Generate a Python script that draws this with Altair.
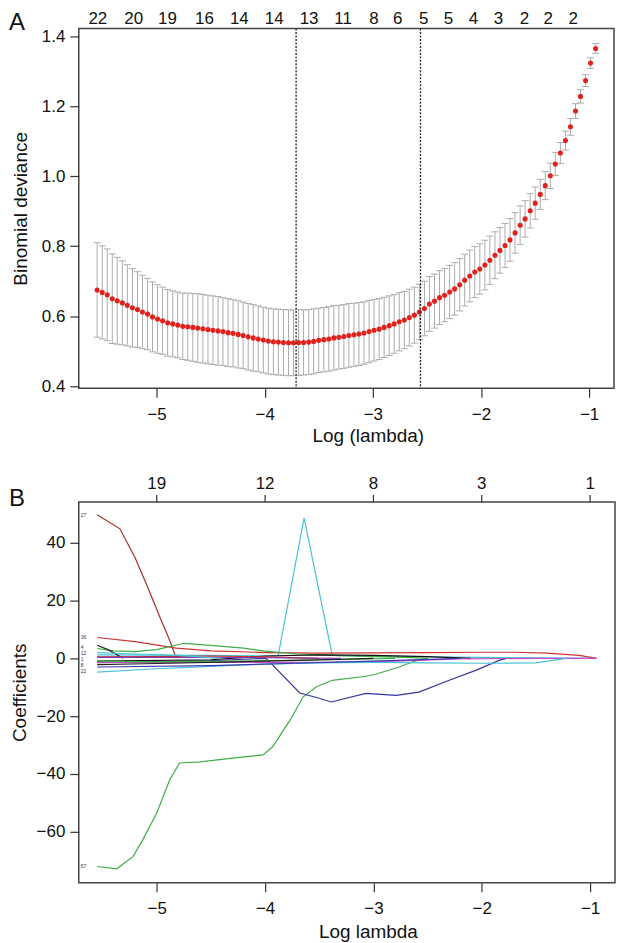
import altair as alt
import numpy as np
import pandas as pd

# ---------------- Panel A data: cross-validation curve ----------------
log_lambda = [
    -5.550, -5.503, -5.457, -5.410, -5.364, -5.317, -5.271, -5.224, -5.177, -5.131,
    -5.084, -5.038, -4.991, -4.945, -4.898, -4.851, -4.805, -4.758, -4.712, -4.665,
    -4.619, -4.572, -4.525, -4.479, -4.432, -4.386, -4.339, -4.293, -4.246, -4.200,
    -4.153, -4.106, -4.060, -4.013, -3.967, -3.920, -3.874, -3.827, -3.780, -3.734,
    -3.687, -3.641, -3.594, -3.548, -3.501, -3.454, -3.408, -3.361, -3.315, -3.268,
    -3.222, -3.175, -3.129, -3.082, -3.035, -2.989, -2.942, -2.896, -2.849, -2.803,
    -2.756, -2.709, -2.663, -2.616, -2.570, -2.523, -2.477, -2.430, -2.384, -2.337,
    -2.290, -2.244, -2.197, -2.151, -2.104, -2.058, -2.011, -1.964, -1.918, -1.871,
    -1.825, -1.778, -1.732, -1.685, -1.638, -1.592, -1.545, -1.499, -1.452, -1.406,
    -1.359, -1.313, -1.266, -1.219, -1.173, -1.126, -1.080, -1.033, -0.987, -0.940,
]
cv_mean = [
    0.675, 0.668, 0.661, 0.650, 0.644, 0.638, 0.631, 0.624, 0.619, 0.612,
    0.606, 0.598, 0.592, 0.587, 0.581, 0.578, 0.575, 0.571, 0.570, 0.568,
    0.566, 0.564, 0.562, 0.560, 0.558, 0.556, 0.553, 0.551, 0.548, 0.545,
    0.541, 0.538, 0.535, 0.532, 0.529, 0.527, 0.526, 0.525, 0.524, 0.524,
    0.525, 0.525, 0.526, 0.528, 0.531, 0.533, 0.535, 0.538, 0.540, 0.542,
    0.545, 0.547, 0.549, 0.552, 0.556, 0.560, 0.563, 0.568, 0.573, 0.578,
    0.584, 0.589, 0.596, 0.603, 0.612, 0.622, 0.635, 0.643, 0.653, 0.660,
    0.669, 0.678, 0.690, 0.703, 0.715, 0.726, 0.735, 0.746, 0.760, 0.774,
    0.788, 0.802, 0.818, 0.838, 0.860, 0.878, 0.901, 0.923, 0.948, 0.973,
    1.001, 1.035, 1.066, 1.102, 1.141, 1.186, 1.228, 1.273, 1.323, 1.365,
]
cv_se = [
    0.135, 0.133, 0.131, 0.128, 0.124, 0.120, 0.116, 0.112, 0.108, 0.105,
    0.102, 0.100, 0.098, 0.096, 0.095, 0.094, 0.094, 0.095, 0.096, 0.097,
    0.098, 0.098, 0.098, 0.098, 0.098, 0.097, 0.097, 0.096, 0.096, 0.095,
    0.095, 0.095, 0.094, 0.094, 0.094, 0.094, 0.094, 0.094, 0.094, 0.094,
    0.094, 0.093, 0.093, 0.093, 0.092, 0.092, 0.092, 0.092, 0.091, 0.091,
    0.091, 0.090, 0.090, 0.089, 0.089, 0.088, 0.087, 0.086, 0.085, 0.084,
    0.083, 0.082, 0.081, 0.080, 0.079, 0.078, 0.078, 0.077, 0.077, 0.076,
    0.076, 0.075, 0.075, 0.074, 0.074, 0.073, 0.072, 0.071, 0.069, 0.067,
    0.065, 0.063, 0.061, 0.058, 0.055, 0.052, 0.049, 0.046, 0.043, 0.040,
    0.036, 0.033, 0.030, 0.027, 0.024, 0.021, 0.019, 0.017, 0.015, 0.014,
]
lambda_lines = [-3.71, -2.56]

topA_pos = [-5.544, -5.212, -4.899, -4.558, -4.235, -3.912, -3.590, -3.276, -2.991,
            -2.770, -2.530, -2.300, -2.069, -1.839, -1.599, -1.378, -1.147]
topA_lab = ["22", "20", "19", "16", "14", "14", "13", "11", "8",
            "6", "5", "5", "4", "3", "2", "2", "2"]

# ---------------- Panel B data: coefficient paths ----------------
p27_x = [-5.55, -5.34, -5.20, -5.09, -4.97, -4.88, -4.82]
p27_y = [49.7, 44.8, 34.8, 25.2, 14.1, 6.2, 0.0]
p57_x = [-5.55, -5.37, -5.22, -5.13, -5.00, -4.88, -4.79, -4.60, -4.30, -4.02, -3.93,
         -3.77, -3.65, -3.53, -3.38, -3.07, -2.98, -2.77, -2.62, -2.50]
p57_y = [-72.0, -72.8, -68.6, -62.8, -53.5, -42.0, -36.2, -35.8, -34.5, -33.4, -30.6,
         -21.4, -13.4, -9.9, -7.6, -6.2, -5.5, -3.1, -1.0, 0.0]
pspike_x = [-5.55, -4.50, -3.88, -3.64, -3.38, -3.00, -2.50, -2.00, -1.50, -0.94]
pspike_y = [1.2, 1.0, 0.8, 48.6, 1.0, 0.8, 0.5, 0.3, 0.2, 0.0]
pnavy_x = [-5.55, -4.50, -3.99, -3.68, -3.50, -3.39, -3.07, -2.79, -2.58, -2.30, -2.05, -1.84, -1.77]
pnavy_y = [-1.5, -0.8, 0.0, -12.0, -13.8, -15.1, -12.1, -12.8, -11.7, -7.6, -4.1, -0.7, 0.0]
p26_x = [-5.55, -5.20, -4.82, -4.50, -4.00, -3.50, -3.00, -2.50, -2.00, -1.70, -1.40, -1.10, -0.94]
p26_y = [7.2, 5.8, 3.5, 2.6, 2.0, 1.8, 1.9, 2.0, 2.1, 2.1, 1.8, 1.0, 0.0]
pgreen2_x = [-5.55, -5.40, -5.20, -5.00, -4.75, -4.50, -4.20, -4.00, -3.70, -3.40, -3.00, -2.70, -2.50]
pgreen2_y = [3.4, 2.6, 2.3, 3.0, 5.2, 4.5, 3.5, 2.5, 1.5, 1.0, 0.6, 0.3, 0.0]
pblack1_x = [-5.55, -5.45, -5.31]
pblack1_y = [4.5, 3.0, 0.0]
pblack2_x = [-5.55, -4.50, -4.00, -3.50, -3.00, -2.50, -2.10]
pblack2_y = [-1.0, -0.5, 0.8, 1.2, 1.0, 0.6, 0.0]
pmag_x = [-5.55, -4.50, -3.50, -2.80, -2.20, -1.50, -0.94]
pmag_y = [-1.4, -1.4, -1.4, -1.0, -0.2, 0.0, 0.0]
pcyan2_x = [-5.55, -5.00, -4.50, -4.00, -3.50, -3.00, -2.50, -2.00, -1.50, -1.22]
pcyan2_y = [-4.8, -3.6, -2.8, -2.0, -1.6, -1.4, -1.6, -1.7, -1.6, 0.0]
pblue2_x = [-5.55, -4.50, -3.80, -3.00, -2.20]
pblue2_y = [-3.0, -2.5, -1.8, -1.0, 0.0]
pgreen3_x = [-5.55, -5.00, -4.00, -3.30, -2.80]
pgreen3_y = [-1.0, -1.2, -0.8, -0.4, 0.0]
pblack3_x = [-5.55, -5.00, -4.30, -3.60, -3.00]
pblack3_y = [-2.2, -1.8, -1.2, -0.6, 0.0]
pred3_x = [-5.55, -5.00, -4.50, -4.00, -3.50]
pred3_y = [0.5, 0.6, 0.8, 0.5, 0.0]
ppurple_x = [-5.55, -4.80, -4.00, -3.30]
ppurple_y = [0.3, 0.3, 0.2, 0.0]
pcyan3_x = [-5.55, -5.20, -4.80, -4.40]
pcyan3_y = [2.0, 1.5, 1.0, 0.0]

series_names = ["s27", "s57", "spike", "navy", "s26", "green2", "black1", "black2",
                "mag", "cyan2", "blue2", "green3", "black3", "red3", "purple", "cyan3"]
series_colors = ["#a8302c", "#3fae45", "#48c3d3", "#35359c", "#cc3434", "#3fae45",
                 "#222222", "#111111", "#c44cc4", "#48c3d3", "#3a3ab0", "#3fae45",
                 "#222222", "#d02a2a", "#7a3aa8", "#48c3d3"]
series_paths = [(p27_x, p27_y), (p57_x, p57_y), (pspike_x, pspike_y), (pnavy_x, pnavy_y),
                (p26_x, p26_y), (pgreen2_x, pgreen2_y), (pblack1_x, pblack1_y),
                (pblack2_x, pblack2_y), (pmag_x, pmag_y), (pcyan2_x, pcyan2_y),
                (pblue2_x, pblue2_y), (pgreen3_x, pgreen3_y), (pblack3_x, pblack3_y),
                (pred3_x, pred3_y), (ppurple_x, ppurple_y), (pcyan3_x, pcyan3_y)]

var_lab_text = ["27", "36", "57", "4", "12", "1", "8", "22"]
var_lab_y = [49.7, 7.2, -72.0, 4.0, 1.8, -0.2, -2.2, -4.4]

topB_pos = [-5, -4, -3, -2, -1]
topB_lab = ["19", "12", "8", "3", "1"]

# ---------------- build tables ----------------
dfA = pd.DataFrame({"x": log_lambda, "mean": cv_mean, "se": cv_se})
dfA["lower"] = dfA["mean"] - dfA["se"]
dfA["upper"] = dfA["mean"] + dfA["se"]

rows = []
for name, (xs, ys) in zip(series_names, series_paths):
    for a, b in zip(xs, ys):
        rows.append({"series": name, "x": a, "y": b})
dfB = pd.DataFrame(rows)

FONT = "Liberation Sans"
xscale = alt.Scale(domain=[-5.72, -0.77], nice=False, zero=False)
yA = alt.Scale(domain=[0.394, 1.422], nice=False, zero=False)
yB = alt.Scale(domain=[-77.6, 54.1], nice=False, zero=False)

xaxisA = alt.Axis(values=[-5, -4, -3, -2, -1], format="d", title="Log (lambda)",
                  labelPadding=9,
                  titleX=290, titleY=47, titleBaseline="middle", titleAlign="center")
yaxisA = alt.Axis(values=[0.4, 0.6, 0.8, 1.0, 1.2, 1.4], format=".1f",
                  title="Binomial deviance", titlePadding=11)

# ---------------- Panel A ----------------
WA, HA = 537, 361
baseA = alt.Chart(dfA)
bars = baseA.mark_rule(color="#acacac", strokeWidth=1).encode(
    x=alt.X("x:Q", scale=xscale, axis=xaxisA),
    y=alt.Y("lower:Q", scale=yA, axis=yaxisA),
    y2="upper:Q",
)
capU = baseA.mark_rule(color="#acacac", strokeWidth=1, xOffset=-3.5, x2Offset=3.5).encode(
    x=alt.X("x:Q", scale=xscale, axis=xaxisA), x2="x:Q",
    y=alt.Y("upper:Q", scale=yA, axis=yaxisA))
capL = baseA.mark_rule(color="#acacac", strokeWidth=1, xOffset=-3.5, x2Offset=3.5).encode(
    x=alt.X("x:Q", scale=xscale, axis=xaxisA), x2="x:Q",
    y=alt.Y("lower:Q", scale=yA, axis=yaxisA))
dots = baseA.mark_circle(color="#e3211c", size=26, opacity=1).encode(
    x=alt.X("x:Q", scale=xscale, axis=xaxisA),
    y=alt.Y("mean:Q", scale=yA, axis=yaxisA))
vlines = alt.Chart(pd.DataFrame({"x": lambda_lines})).mark_rule(
    color="#222222", strokeDash=[2, 1.5], strokeWidth=1.3).encode(
    x=alt.X("x:Q", scale=xscale, axis=xaxisA))
topA = alt.Chart(pd.DataFrame({"x": topA_pos, "t": topA_lab})).mark_text(
    font=FONT, fontSize=17, color="#111111", baseline="middle").encode(
    x=alt.X("x:Q", scale=xscale, axis=xaxisA), y=alt.value(-9), text="t:N")
letterA = alt.Chart(pd.DataFrame({"t": ["A"]})).mark_text(
    font=FONT, fontSize=24, color="#111111", baseline="middle", align="center").encode(
    x=alt.value(-62), y=alt.value(-5), text="t:N")

panelA = alt.layer(bars, capU, capL, dots, vlines, topA, letterA).properties(width=WA, height=HA)

# ---------------- Panel B ----------------
WB, HB = 538, 382
xaxisB = alt.Axis(values=[-5, -4, -3, -2, -1], format="d", title="Log lambda",
                  labelPadding=9,
                  titleX=290, titleY=49, titleBaseline="middle", titleAlign="center")
yaxisB = alt.Axis(values=[-60, -40, -20, 0, 20, 40], format="d",
                  title="Coefficients", titlePadding=7)
lines = alt.Chart(dfB).mark_line(strokeWidth=1.2).encode(
    x=alt.X("x:Q", scale=xscale, axis=xaxisB),
    y=alt.Y("y:Q", scale=yB, axis=yaxisB),
    color=alt.Color("series:N", scale=alt.Scale(domain=series_names, range=series_colors),
                    legend=None),
)
varlabs = alt.Chart(pd.DataFrame({"t": var_lab_text, "y": var_lab_y})).mark_text(
    font=FONT, fontSize=5, color="#333366", align="left", baseline="middle").encode(
    x=alt.value(2), y=alt.Y("y:Q", scale=yB, axis=yaxisB), text="t:N")
topTicks = alt.Chart(pd.DataFrame({"x": topB_pos})).mark_rule(color="#333333", strokeWidth=1.2).encode(
    x=alt.X("x:Q", scale=xscale, axis=xaxisB), y=alt.value(0), y2=alt.value(-7))
topB = alt.Chart(pd.DataFrame({"x": topB_pos, "t": topB_lab})).mark_text(
    font=FONT, fontSize=17, color="#111111", baseline="middle").encode(
    x=alt.X("x:Q", scale=xscale, axis=xaxisB), y=alt.value(-18), text="t:N")
letterB = alt.Chart(pd.DataFrame({"t": ["B"]})).mark_text(
    font=FONT, fontSize=24, color="#111111", baseline="middle", align="center").encode(
    x=alt.value(-62), y=alt.value(-3), text="t:N")

panelB = alt.layer(lines, varlabs, topTicks, topB, letterB).properties(width=WB, height=HB)

chart = alt.vconcat(panelA, panelB, spacing=28).properties(
    padding={"left": 0, "top": 0, "right": 0, "bottom": 0}
).configure_view(
    stroke="#444444", strokeWidth=1.5
).configure_axis(
    labelFont=FONT, titleFont=FONT, labelFontSize=17, titleFontSize=19,
    titleFontWeight="normal", labelColor="#111111", titleColor="#111111",
    tickColor="#333333", tickSize=9, tickWidth=1.2, domain=False, grid=False,
    labelPadding=5,
)

chart.save("out.html", embed_options={"renderer": "svg", "actions": False})
